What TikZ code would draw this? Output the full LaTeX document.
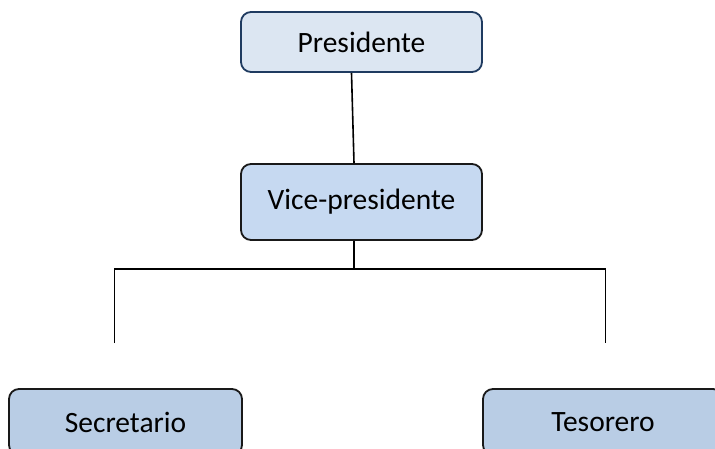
\documentclass[tikz,border=0pt]{standalone}
\usepackage{fontspec}
\setmainfont{Carlito}
\definecolor{presfill}{HTML}{DCE6F2}
\definecolor{presdraw}{HTML}{1F3B60}
\definecolor{vicefill}{HTML}{C6D9F1}
\definecolor{lowfill}{HTML}{B9CDE5}
\begin{document}
\begin{tikzpicture}[x=1pt,y=-1pt,
  box/.style={rectangle, rounded corners=10pt, line width=1.8pt, inner sep=0pt,
    font=\fontsize{29.5}{35}\selectfont, text=black},
  conn/.style={line width=1.6pt, draw=black}]
\useasboundingbox (0,0) rectangle (715,449);
\clip (0,0) rectangle (715,449);
\node[box, fill=presfill, draw=presdraw, minimum width=241pt, minimum height=60pt] (p) at (361.5,42) {Presidente};
\node[box, fill=vicefill, draw=black!90, minimum width=241pt, minimum height=76pt] (v) at (361.5,202) {Vice-presidente};
\node[box, fill=lowfill, draw=black!90, minimum width=233pt, minimum height=66pt] (s) at (125.5,422) {Secretario};
\node[box, fill=lowfill, draw=black!90, minimum width=240pt, minimum height=66pt] (t) at (603,422) {Tesorero};
\coordinate (j) at (354,269);
\coordinate (l) at (114.5,269);
\coordinate (r) at (605.5,269);
\coordinate (le) at (114.5,343);
\coordinate (re) at (605.5,343);
\draw[conn] ([xshift=-10pt]p.south) -- ([xshift=-7.5pt]v.north);
\draw[conn] ([xshift=-7.5pt]v.south) -- (j);
\draw[conn] (le) -- (l) -- (r) -- (re);
\end{tikzpicture}
\end{document}
